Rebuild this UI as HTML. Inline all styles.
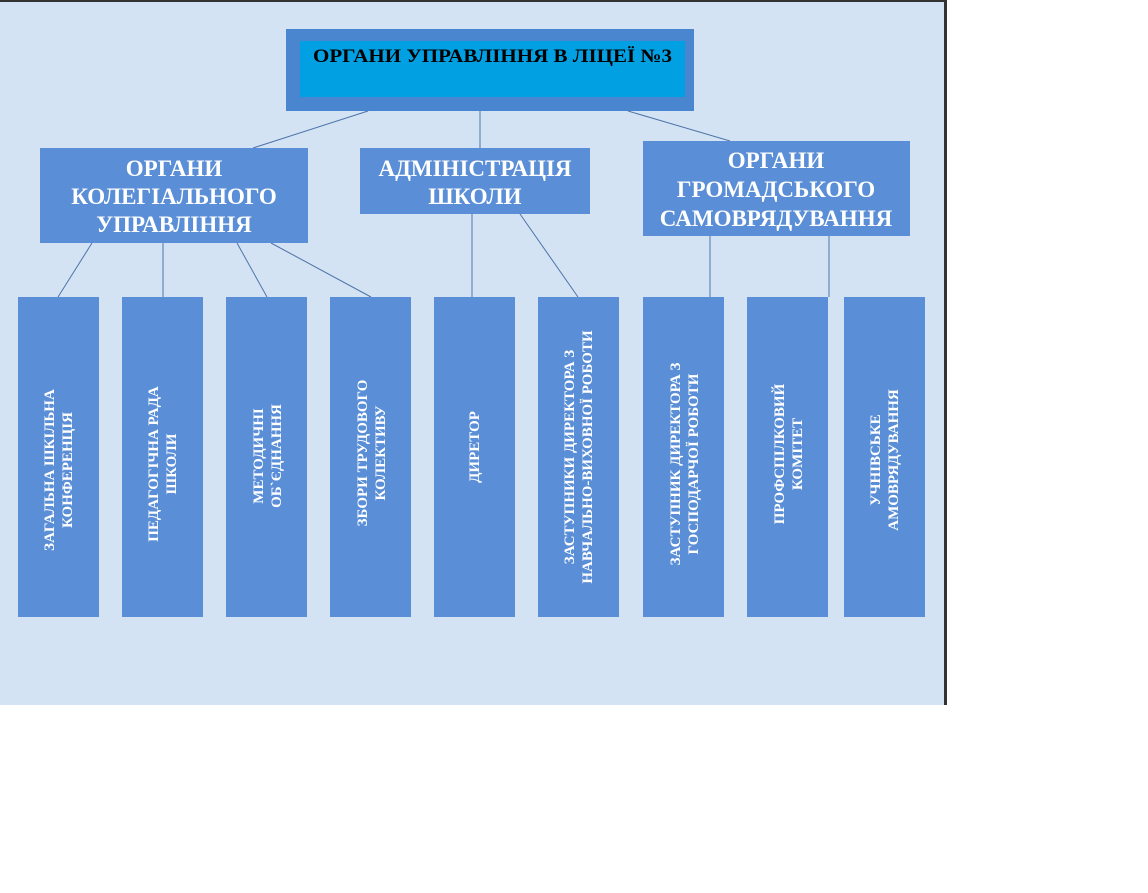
<!DOCTYPE html>
<html><head><meta charset="utf-8"><style>
html,body{margin:0;padding:0;background:#fff;width:1148px;height:893px;overflow:hidden}
svg{display:block}
text{font-family:"Liberation Serif",serif;font-weight:bold}
</style></head><body>
<svg width="1148" height="893" xmlns="http://www.w3.org/2000/svg">
<rect x="0" y="0" width="946" height="705" fill="#d3e3f3"/>
<rect x="0" y="0" width="946" height="2" fill="#333"/>
<rect x="944" y="0" width="3" height="705" fill="#333"/>
<g stroke="#4d74a8" stroke-width="1">
<line x1="368" y1="111" x2="253" y2="148"/>
<line x1="480" y1="111" x2="480" y2="148"/>
<line x1="628" y1="111" x2="730" y2="141"/>
<line x1="92" y1="243" x2="58" y2="297"/>
<line x1="163" y1="243" x2="163" y2="297"/>
<line x1="237" y1="243" x2="267" y2="297"/>
<line x1="271" y1="243" x2="371" y2="297"/>
<line x1="472" y1="214" x2="472" y2="297"/>
<line x1="520" y1="214" x2="578" y2="297"/>
<line x1="710" y1="236" x2="710" y2="297"/>
<line x1="829" y1="236" x2="829" y2="297"/>
</g>
<rect x="286" y="29" width="408" height="82" fill="#4a86d0"/>
<rect x="300" y="41" width="385" height="56" fill="#00a0e2"/>
<text x="313" y="62" font-size="19" textLength="359" lengthAdjust="spacingAndGlyphs" fill="#000">ОРГАНИ УПРАВЛІННЯ В ЛІЦЕЇ №3</text>
<g fill="#5a8ed6">
<rect x="40" y="148" width="268" height="95"/>
<rect x="360" y="148" width="230" height="66"/>
<rect x="643" y="141" width="267" height="95"/>
<rect x="18" y="297" width="81" height="320"/>
<rect x="122" y="297" width="81" height="320"/>
<rect x="226" y="297" width="81" height="320"/>
<rect x="330" y="297" width="81" height="320"/>
<rect x="434" y="297" width="81" height="320"/>
<rect x="538" y="297" width="81" height="320"/>
<rect x="643" y="297" width="81" height="320"/>
<rect x="747" y="297" width="81" height="320"/>
<rect x="844" y="297" width="81" height="320"/>
</g>
<g fill="#fff" font-size="23" text-anchor="middle">
<text x="174" y="176">ОРГАНИ</text>
<text x="174" y="204">КОЛЕГІАЛЬНОГО</text>
<text x="174" y="232">УПРАВЛІННЯ</text>
<text x="475" y="176">АДМІНІСТРАЦІЯ</text>
<text x="475" y="204">ШКОЛИ</text>
<text x="776" y="168">ОРГАНИ</text>
<text x="776" y="197">ГРОМАДСЬКОГО</text>
<text x="776" y="226">САМОВРЯДУВАННЯ</text>
</g>
<g fill="#fff" font-size="15" text-anchor="middle">
<text transform="translate(58,470) rotate(-90)"><tspan x="0" y="-4">ЗАГАЛЬНА ШКІЛЬНА</tspan><tspan x="0" y="14">КОНФЕРЕНЦІЯ</tspan></text>
<text transform="translate(162,464) rotate(-90)"><tspan x="0" y="-4">ПЕДАГОГІЧНА РАДА</tspan><tspan x="0" y="14">ШКОЛИ</tspan></text>
<text transform="translate(267,456) rotate(-90)"><tspan x="0" y="-4">МЕТОДИЧНІ</tspan><tspan x="0" y="14">ОБ`ЄДНАННЯ</tspan></text>
<text transform="translate(371,453) rotate(-90)"><tspan x="0" y="-4">ЗБОРИ ТРУДОВОГО</tspan><tspan x="0" y="14">КОЛЕКТИВУ</tspan></text>
<text transform="translate(474,447) rotate(-90)"><tspan x="0" y="5">ДИРЕТОР</tspan></text>
<text transform="translate(578,457) rotate(-90)"><tspan x="0" y="-4">ЗАСТУПНИКИ  ДИРЕКТОРА З</tspan><tspan x="0" y="14">НАВЧАЛЬНО-ВИХОВНОЇ РОБОТИ</tspan></text>
<text transform="translate(684,464) rotate(-90)"><tspan x="0" y="-4">ЗАСТУПНИК ДИРЕКТОРА З</tspan><tspan x="0" y="14">ГОСПОДАРЧОЇ  РОБОТИ</tspan></text>
<text transform="translate(788,454) rotate(-90)"><tspan x="0" y="-4">ПРОФСПІЛКОВИЙ</tspan><tspan x="0" y="14">КОМІТЕТ</tspan></text>
<text transform="translate(884,460) rotate(-90)"><tspan x="0" y="-4">УЧНІВСЬКЕ</tspan><tspan x="0" y="14">АМОВРЯДУВАННЯ</tspan></text>
</g>
</svg>
</body></html>
